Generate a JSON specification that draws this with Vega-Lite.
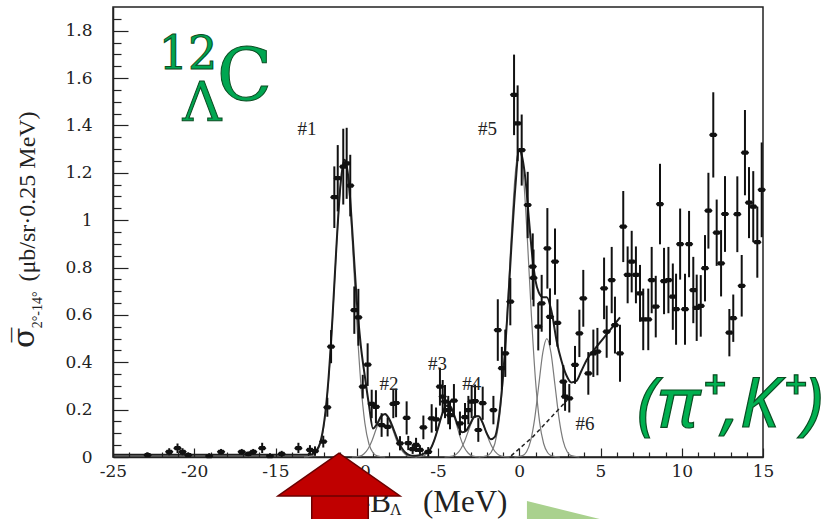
{
"$schema": "https://vega.github.io/schema/vega-lite/v6.json",
"width": 650, "height": 450,
"autosize": {"type": "none"},
"padding": {"left": 113, "top": 7, "right": 71, "bottom": 62},
"background": "white",
"config": {"view": {"stroke": "#222", "strokeWidth": 1.5}, "axis": {"grid": false, "labelOverlap": false}},
"datasets": {
"pts": [
{"x":-22.87,"y":0.008,"lo":0.0,"hi":0.02},{"x":-21.54,"y":0.022,"lo":0.007,"hi":0.037},{"x":-21.03,"y":0.037,"lo":0.017,"hi":0.057},{"x":-20.72,"y":0.022,"lo":0.007,"hi":0.037},{"x":-20.37,"y":0.008,"lo":0.0,"hi":0.02},{"x":-19.08,"y":0.004,"lo":0.0,"hi":0.016},{"x":-18.35,"y":0.022,"lo":0.01,"hi":0.034},{"x":-17.08,"y":0.022,"lo":0.01,"hi":0.034},{"x":-16.67,"y":0.013,"lo":0.003,"hi":0.023},{"x":-16.37,"y":0.022,"lo":0.01,"hi":0.034},{"x":-15.82,"y":0.037,"lo":0.017,"hi":0.06},{"x":-15.34,"y":0.004,"lo":0.0,"hi":0.016},{"x":-14.62,"y":0.013,"lo":0.0,"hi":0.026},{"x":-13.59,"y":0.037,"lo":0.017,"hi":0.06},{"x":-12.88,"y":0.03,"lo":0.01,"hi":0.05},{"x":-12.57,"y":0.025,"lo":0.005,"hi":0.045},{"x":-12.06,"y":0.065,"lo":0.04,"hi":0.09},{"x":-11.81,"y":0.21,"lo":0.17,"hi":0.25},{"x":-11.58,"y":0.466,"lo":0.396,"hi":0.536},{"x":-11.38,"y":1.097,"lo":0.967,"hi":1.227},{"x":-11.17,"y":1.177,"lo":1.037,"hi":1.317},{"x":-10.83,"y":1.226,"lo":1.066,"hi":1.386},{"x":-10.62,"y":1.24,"lo":1.09,"hi":1.39},{"x":-10.4,"y":1.146,"lo":1.016,"hi":1.276},{"x":-10.15,"y":0.62,"lo":0.52,"hi":0.72},{"x":-9.9,"y":0.59,"lo":0.47,"hi":0.71},{"x":-9.63,"y":0.297,"lo":0.247,"hi":0.347},{"x":-9.33,"y":0.39,"lo":0.3,"hi":0.48},{"x":-9.08,"y":0.224,"lo":0.164,"hi":0.284},{"x":-8.82,"y":0.212,"lo":0.142,"hi":0.282},{"x":-8.47,"y":0.135,"lo":0.085,"hi":0.185},{"x":-8.1,"y":0.127,"lo":0.087,"hi":0.167},{"x":-7.75,"y":0.224,"lo":0.164,"hi":0.284},{"x":-7.58,"y":0.228,"lo":0.168,"hi":0.288},{"x":-7.34,"y":0.058,"lo":0.028,"hi":0.088},{"x":-6.93,"y":0.165,"lo":0.095,"hi":0.235},{"x":-6.83,"y":0.059,"lo":0.029,"hi":0.089},{"x":-6.56,"y":0.033,"lo":0.013,"hi":0.053},{"x":-6.35,"y":0.051,"lo":0.021,"hi":0.081},{"x":-6.11,"y":0.03,"lo":0.01,"hi":0.05},{"x":-5.9,"y":0.125,"lo":0.075,"hi":0.175},{"x":-5.6,"y":0.022,"lo":0.002,"hi":0.042},{"x":-5.39,"y":0.163,"lo":0.103,"hi":0.223},{"x":-5.12,"y":0.159,"lo":0.109,"hi":0.209},{"x":-4.88,"y":0.297,"lo":0.217,"hi":0.377},{"x":-4.71,"y":0.255,"lo":0.185,"hi":0.325},{"x":-4.57,"y":0.234,"lo":0.164,"hi":0.304},{"x":-4.37,"y":0.198,"lo":0.138,"hi":0.258},{"x":-4.26,"y":0.177,"lo":0.117,"hi":0.237},{"x":-4.02,"y":0.238,"lo":0.168,"hi":0.308},{"x":-3.65,"y":0.142,"lo":0.092,"hi":0.192},{"x":-3.34,"y":0.168,"lo":0.108,"hi":0.228},{"x":-3.13,"y":0.198,"lo":0.138,"hi":0.258},{"x":-2.93,"y":0.234,"lo":0.164,"hi":0.304},{"x":-2.72,"y":0.236,"lo":0.166,"hi":0.306},{"x":-2.52,"y":0.114,"lo":0.064,"hi":0.164},{"x":-2.25,"y":0.227,"lo":0.157,"hi":0.297},{"x":-1.59,"y":0.198,"lo":0.138,"hi":0.258},{"x":-1.32,"y":0.536,"lo":0.406,"hi":0.666},{"x":-1.07,"y":0.375,"lo":0.285,"hi":0.465},{"x":-0.86,"y":0.438,"lo":0.338,"hi":0.538},{"x":-0.55,"y":0.656,"lo":0.556,"hi":0.756},{"x":-0.32,"y":1.529,"lo":1.359,"hi":1.699},{"x":-0.1,"y":1.409,"lo":1.249,"hi":1.569},{"x":0.15,"y":1.296,"lo":1.146,"hi":1.446},{"x":0.52,"y":1.064,"lo":0.924,"hi":1.204},{"x":0.83,"y":0.804,"lo":0.664,"hi":0.944},{"x":0.88,"y":0.756,"lo":0.636,"hi":0.876},{"x":1.17,"y":0.55,"lo":0.45,"hi":0.65},{"x":1.38,"y":0.649,"lo":0.529,"hi":0.769},{"x":1.73,"y":0.881,"lo":0.711,"hi":1.051},{"x":1.89,"y":0.592,"lo":0.472,"hi":0.712},{"x":2.2,"y":0.825,"lo":0.685,"hi":0.965},{"x":2.35,"y":0.566,"lo":0.466,"hi":0.666},{"x":2.71,"y":0.318,"lo":0.248,"hi":0.388},{"x":2.82,"y":0.255,"lo":0.195,"hi":0.315},{"x":3.08,"y":0.248,"lo":0.188,"hi":0.308},{"x":3.43,"y":0.389,"lo":0.309,"hi":0.469},{"x":3.7,"y":0.522,"lo":0.422,"hi":0.622},{"x":3.94,"y":0.67,"lo":0.55,"hi":0.79},{"x":4.25,"y":0.353,"lo":0.263,"hi":0.443},{"x":4.56,"y":0.438,"lo":0.338,"hi":0.538},{"x":4.81,"y":0.445,"lo":0.345,"hi":0.545},{"x":5.22,"y":0.712,"lo":0.582,"hi":0.842},{"x":5.38,"y":0.529,"lo":0.419,"hi":0.639},{"x":5.69,"y":0.747,"lo":0.607,"hi":0.887},{"x":5.89,"y":0.557,"lo":0.437,"hi":0.677},{"x":6.2,"y":0.438,"lo":0.318,"hi":0.558},{"x":6.4,"y":0.973,"lo":0.823,"hi":1.123},{"x":6.67,"y":0.769,"lo":0.649,"hi":0.889},{"x":6.92,"y":0.825,"lo":0.695,"hi":0.955},{"x":7.18,"y":0.769,"lo":0.649,"hi":0.889},{"x":7.43,"y":0.691,"lo":0.571,"hi":0.811},{"x":7.63,"y":0.581,"lo":0.451,"hi":0.711},{"x":7.94,"y":0.581,"lo":0.451,"hi":0.711},{"x":8.15,"y":0.747,"lo":0.607,"hi":0.887},{"x":8.4,"y":0.635,"lo":0.505,"hi":0.765},{"x":8.66,"y":1.068,"lo":0.898,"hi":1.238},{"x":8.91,"y":0.743,"lo":0.603,"hi":0.883},{"x":9.18,"y":0.747,"lo":0.607,"hi":0.887},{"x":9.45,"y":0.677,"lo":0.537,"hi":0.817},{"x":9.65,"y":0.624,"lo":0.474,"hi":0.774},{"x":9.9,"y":0.899,"lo":0.749,"hi":1.049},{"x":10.2,"y":0.624,"lo":0.474,"hi":0.774},{"x":10.45,"y":0.899,"lo":0.759,"hi":1.039},{"x":10.71,"y":0.705,"lo":0.565,"hi":0.845},{"x":10.92,"y":0.63,"lo":0.49,"hi":0.77},{"x":11.17,"y":0.638,"lo":0.508,"hi":0.768},{"x":11.43,"y":0.797,"lo":0.657,"hi":0.937},{"x":11.64,"y":1.04,"lo":0.88,"hi":1.2},{"x":11.94,"y":1.36,"lo":1.18,"hi":1.54},{"x":12.15,"y":0.947,"lo":0.807,"hi":1.087},{"x":12.42,"y":0.818,"lo":0.678,"hi":0.958},{"x":12.66,"y":1.026,"lo":0.866,"hi":1.186},{"x":12.93,"y":0.525,"lo":0.425,"hi":0.625},{"x":13.17,"y":0.586,"lo":0.486,"hi":0.686},{"x":13.42,"y":1.025,"lo":0.865,"hi":1.185},{"x":13.69,"y":0.723,"lo":0.593,"hi":0.853},{"x":13.89,"y":1.285,"lo":1.105,"hi":1.465},{"x":14.14,"y":1.074,"lo":0.924,"hi":1.224},{"x":14.4,"y":1.057,"lo":0.907,"hi":1.207},{"x":14.65,"y":0.907,"lo":0.757,"hi":1.057},{"x":14.92,"y":1.128,"lo":0.928,"hi":1.328}
],
"fit": [
{"x":-25,"y":0.01},{"x":-13,"y":0.01},{"x":-12.75,"y":0.012},{"x":-12.5,"y":0.025},{"x":-12.25,"y":0.06},{"x":-12,"y":0.15},{"x":-11.75,"y":0.32},{"x":-11.5,"y":0.58},{"x":-11.25,"y":0.89},{"x":-11,"y":1.15},{"x":-10.75,"y":1.255},{"x":-10.5,"y":1.17},{"x":-10.25,"y":0.93},{"x":-10,"y":0.66},{"x":-9.75,"y":0.47},{"x":-9.5,"y":0.34},{"x":-9.25,"y":0.22},{"x":-9,"y":0.12},{"x":-8.75,"y":0.14},{"x":-8.5,"y":0.172},{"x":-8.25,"y":0.182},{"x":-8,"y":0.16},{"x":-7.75,"y":0.12},{"x":-7.5,"y":0.075},{"x":-7.25,"y":0.04},{"x":-7,"y":0.018},{"x":-6.75,"y":0.008},{"x":-6.5,"y":0.005},{"x":-6.25,"y":0.006},{"x":-6,"y":0.01},{"x":-5.75,"y":0.018},{"x":-5.5,"y":0.03},{"x":-5.25,"y":0.067},{"x":-5,"y":0.121},{"x":-4.75,"y":0.18},{"x":-4.5,"y":0.216},{"x":-4.25,"y":0.214},{"x":-4,"y":0.176},{"x":-3.75,"y":0.129},{"x":-3.5,"y":0.104},{"x":-3.25,"y":0.112},{"x":-3,"y":0.143},{"x":-2.75,"y":0.171},{"x":-2.5,"y":0.172},{"x":-2.25,"y":0.144},{"x":-2,"y":0.1},{"x":-1.75,"y":0.075},{"x":-1.5,"y":0.085},{"x":-1.25,"y":0.17},{"x":-1,"y":0.34},{"x":-0.75,"y":0.58},{"x":-0.5,"y":0.87},{"x":-0.25,"y":1.13},{"x":0,"y":1.3},{"x":0.2,"y":1.26},{"x":0.4,"y":1.16},{"x":0.6,"y":1.0},{"x":0.8,"y":0.85},{"x":1.0,"y":0.745},{"x":1.2,"y":0.695},{"x":1.45,"y":0.675},{"x":1.7,"y":0.675},{"x":2.0,"y":0.61},{"x":2.3,"y":0.49},{"x":2.6,"y":0.405},{"x":2.9,"y":0.345},{"x":3.2,"y":0.315},{"x":3.5,"y":0.32},{"x":3.8,"y":0.36},{"x":4.15,"y":0.41},{"x":4.75,"y":0.465},{"x":5.4,"y":0.52},{"x":6.2,"y":0.59}
],
"comp": [
{"c":"g1","x":-13.25,"y":0},{"c":"g1","x":-12.75,"y":0.005},{"c":"g1","x":-12.5,"y":0.018},{"c":"g1","x":-12.25,"y":0.055},{"c":"g1","x":-12,"y":0.143},{"c":"g1","x":-11.75,"y":0.312},{"c":"g1","x":-11.5,"y":0.572},{"c":"g1","x":-11.25,"y":0.884},{"c":"g1","x":-11,"y":1.146},{"c":"g1","x":-10.75,"y":1.25},{"c":"g1","x":-10.5,"y":1.146},{"c":"g1","x":-10.25,"y":0.884},{"c":"g1","x":-10,"y":0.572},{"c":"g1","x":-9.75,"y":0.312},{"c":"g1","x":-9.5,"y":0.143},{"c":"g1","x":-9.25,"y":0.055},{"c":"g1","x":-9,"y":0.018},{"c":"g1","x":-8.75,"y":0.005},{"c":"g1","x":-8.25,"y":0},
{"c":"g2","x":-10.3,"y":0},{"c":"g2","x":-9.8,"y":0.004},{"c":"g2","x":-9.55,"y":0.014},{"c":"g2","x":-9.3,"y":0.035},{"c":"g2","x":-9.05,"y":0.071},{"c":"g2","x":-8.8,"y":0.119},{"c":"g2","x":-8.55,"y":0.162},{"c":"g2","x":-8.3,"y":0.18},{"c":"g2","x":-8.05,"y":0.162},{"c":"g2","x":-7.8,"y":0.119},{"c":"g2","x":-7.55,"y":0.071},{"c":"g2","x":-7.3,"y":0.035},{"c":"g2","x":-7.05,"y":0.014},{"c":"g2","x":-6.8,"y":0.004},{"c":"g2","x":-6.3,"y":0},
{"c":"g3","x":-6.4,"y":0},{"c":"g3","x":-5.9,"y":0.005},{"c":"g3","x":-5.65,"y":0.017},{"c":"g3","x":-5.4,"y":0.042},{"c":"g3","x":-5.15,"y":0.087},{"c":"g3","x":-4.9,"y":0.146},{"c":"g3","x":-4.65,"y":0.198},{"c":"g3","x":-4.4,"y":0.22},{"c":"g3","x":-4.15,"y":0.198},{"c":"g3","x":-3.9,"y":0.146},{"c":"g3","x":-3.65,"y":0.087},{"c":"g3","x":-3.4,"y":0.042},{"c":"g3","x":-3.15,"y":0.017},{"c":"g3","x":-2.9,"y":0.005},{"c":"g3","x":-2.4,"y":0},
{"c":"g4","x":-4.6,"y":0},{"c":"g4","x":-4.1,"y":0.004},{"c":"g4","x":-3.85,"y":0.013},{"c":"g4","x":-3.6,"y":0.034},{"c":"g4","x":-3.35,"y":0.069},{"c":"g4","x":-3.1,"y":0.116},{"c":"g4","x":-2.85,"y":0.158},{"c":"g4","x":-2.6,"y":0.175},{"c":"g4","x":-2.35,"y":0.158},{"c":"g4","x":-2.1,"y":0.116},{"c":"g4","x":-1.85,"y":0.069},{"c":"g4","x":-1.6,"y":0.034},{"c":"g4","x":-1.35,"y":0.013},{"c":"g4","x":-1.1,"y":0.004},{"c":"g4","x":-0.6,"y":0},
{"c":"g5","x":-2.5,"y":0},{"c":"g5","x":-2,"y":0.005},{"c":"g5","x":-1.75,"y":0.018},{"c":"g5","x":-1.5,"y":0.057},{"c":"g5","x":-1.25,"y":0.148},{"c":"g5","x":-1,"y":0.324},{"c":"g5","x":-0.75,"y":0.595},{"c":"g5","x":-0.5,"y":0.919},{"c":"g5","x":-0.25,"y":1.192},{"c":"g5","x":0,"y":1.3},{"c":"g5","x":0.25,"y":1.192},{"c":"g5","x":0.5,"y":0.919},{"c":"g5","x":0.75,"y":0.595},{"c":"g5","x":1,"y":0.324},{"c":"g5","x":1.25,"y":0.148},{"c":"g5","x":1.5,"y":0.057},{"c":"g5","x":1.75,"y":0.018},{"c":"g5","x":2,"y":0.005},{"c":"g5","x":2.5,"y":0},
{"c":"g6","x":-0.3,"y":0},{"c":"g6","x":0.2,"y":0.006},{"c":"g6","x":0.45,"y":0.022},{"c":"g6","x":0.7,"y":0.068},{"c":"g6","x":0.95,"y":0.162},{"c":"g6","x":1.2,"y":0.303},{"c":"g6","x":1.45,"y":0.441},{"c":"g6","x":1.7,"y":0.5},{"c":"g6","x":1.95,"y":0.441},{"c":"g6","x":2.2,"y":0.303},{"c":"g6","x":2.45,"y":0.162},{"c":"g6","x":2.7,"y":0.068},{"c":"g6","x":2.95,"y":0.022},{"c":"g6","x":3.2,"y":0.006},{"c":"g6","x":3.7,"y":0}
],
"bg": [{"x":-0.5,"y":0.005},{"x":0.85,"y":0.086},{"x":1.9,"y":0.163},{"x":2.95,"y":0.24}],
"labels": [{"t":"#1","x":-13.06,"y":1.36},{"t":"#5","x":-1.95,"y":1.36},{"t":"#2","x":-8.02,"y":0.283},{"t":"#3","x":-5.03,"y":0.367},{"t":"#4","x":-2.93,"y":0.283},{"t":"#6","x":4.05,"y":0.114}]
},
"layer": [
{"data": {"name": "comp"},
 "mark": {"type": "line", "color": "#7a7a7a", "strokeWidth": 1.2, "interpolate": "monotone"},
 "encoding": {
  "x": {"field": "x", "type": "quantitative", "scale": {"domain": [-25, 15], "nice": false, "zero": false},
   "axis": {"title": null, "tickCount": 200, "values": [-25,-24,-23,-22,-21,-20,-19,-18,-17,-16,-15,-14,-13,-12,-11,-10,-9,-8,-7,-6,-5,-4,-3,-2,-1,0,1,2,3,4,5,6,7,8,9,10,11,12,13,14,15],
    "labelExpr": "datum.value % 5 === 0 ? toString(datum.value) : ''",
    "tickSize": {"condition": {"test": "datum.value % 5 === 0", "value": -9}, "value": -5},
    "tickColor": "#222", "tickWidth": 1.2, "domainColor": "#222", "domainWidth": 1.5,
    "labelFont": "DejaVu Serif", "labelFontSize": 17, "labelColor": "#222", "labelPadding": 15,
    "labelOverlap": false, "labelFlush": false, "labelBound": false, "grid": false}},
  "y": {"field": "y", "type": "quantitative", "scale": {"domain": [0, 1.9], "nice": false, "zero": false},
   "axis": {"title": null, "tickCount": 200, "values": [0,0.05,0.1,0.15,0.2,0.25,0.3,0.35,0.4,0.45,0.5,0.55,0.6,0.65,0.7,0.75,0.8,0.85,0.9,0.95,1,1.05,1.1,1.15,1.2,1.25,1.3,1.35,1.4,1.45,1.5,1.55,1.6,1.65,1.7,1.75,1.8,1.85],
    "labelExpr": "abs(datum.value*5-round(datum.value*5))<0.001 ? toString(round(datum.value*10)/10) : ''",
    "tickSize": {"condition": {"test": "abs(datum.value*5-round(datum.value*5))<0.001", "value": -15}, "value": -8},
    "tickColor": "#222", "tickWidth": 1.2, "domainColor": "#222", "domainWidth": 1.5,
    "labelFont": "DejaVu Serif", "labelFontSize": 17, "labelColor": "#222", "labelPadding": 36,
    "labelOverlap": false, "labelFlush": false, "labelBound": false, "grid": false}},
  "detail": {"field": "c", "type": "nominal"}
 }},
{"data": {"name": "bg"},
 "mark": {"type": "line", "color": "#222", "strokeWidth": 1.5, "strokeDash": [4, 3]},
 "encoding": {"x": {"field": "x", "type": "quantitative", "title": null}, "y": {"field": "y", "type": "quantitative", "title": null}}},
{"data": {"name": "fit"},
 "mark": {"type": "line", "color": "#1e1e1e", "strokeWidth": 2, "interpolate": "monotone"},
 "encoding": {"x": {"field": "x", "type": "quantitative", "title": null}, "y": {"field": "y", "type": "quantitative", "title": null}}},
{"data": {"name": "pts"},
 "mark": {"type": "rule", "color": "#111", "strokeWidth": 2},
 "encoding": {"x": {"field": "x", "type": "quantitative", "title": null}, "y": {"field": "lo", "type": "quantitative", "title": null}, "y2": {"field": "hi"}}},
{"data": {"name": "pts"},
 "mark": {"type": "point", "shape": "M-1,0L-0.6,-0.5L0.6,-0.5L1,0L0.6,0.5L-0.6,0.5Z", "size": 72, "filled": true, "color": "#111", "opacity": 1},
 "encoding": {"x": {"field": "x", "type": "quantitative", "title": null}, "y": {"field": "y", "type": "quantitative", "title": null}}},
{"data": {"name": "labels"},
 "mark": {"type": "text", "font": "Liberation Serif", "fontSize": 19, "color": "#222", "align": "center", "baseline": "alphabetic"},
 "encoding": {"x": {"field": "x", "type": "quantitative", "title": null}, "y": {"field": "y", "type": "quantitative", "title": null}, "text": {"field": "t"}}},
{"data": {"values": [{}]},
 "mark": {"type": "text", "text": "(μb/sr·0.25 MeV)", "font": "Liberation Serif", "fontSize": 24, "color": "#222", "angle": 270, "align": "center", "baseline": "middle"},
 "encoding": {"x": {"datum": -30.23, "type": "quantitative"}, "y": {"datum": 1.10, "type": "quantitative"}}},
{"data": {"values": [{}]},
 "mark": {"type": "text", "text": "2°-14°", "font": "Liberation Serif", "fontSize": 14, "color": "#222", "angle": 270, "align": "center", "baseline": "middle"},
 "encoding": {"x": {"datum": -29.62, "type": "quantitative"}, "y": {"datum": 0.621, "type": "quantitative"}}},
{"data": {"values": [{}]},
 "mark": {"type": "text", "text": "σ̅", "font": "DejaVu Serif", "fontSize": 30, "color": "#222", "angle": 270, "align": "center", "baseline": "middle"},
 "encoding": {"x": {"datum": -30.42, "type": "quantitative"}, "y": {"datum": 0.503, "type": "quantitative"}}},
{"data": {"values": [{}]},
 "mark": {"type": "text", "text": "-B", "font": "Liberation Serif", "fontSize": 31, "color": "#222", "align": "right", "baseline": "alphabetic"},
 "encoding": {"x": {"datum": -7.89, "type": "quantitative"}, "y": {"datum": -0.232, "type": "quantitative"}}},
{"data": {"values": [{}]},
 "mark": {"type": "text", "text": "Λ", "font": "Liberation Serif", "fontSize": 16, "color": "#222", "align": "left", "baseline": "alphabetic"},
 "encoding": {"x": {"datum": -7.95, "type": "quantitative"}, "y": {"datum": -0.245, "type": "quantitative"}}},
{"data": {"values": [{}]},
 "mark": {"type": "text", "text": "(MeV)", "font": "Liberation Serif", "fontSize": 31, "color": "#222", "align": "left", "baseline": "alphabetic"},
 "encoding": {"x": {"datum": -5.92, "type": "quantitative"}, "y": {"datum": -0.232, "type": "quantitative"}}},
{"data": {"values": [{}]},
 "mark": {"type": "text", "text": "12", "font": "DejaVu Serif", "fontSize": 46, "fill": "#00a651", "stroke": "#0b4d22", "strokeWidth": 1, "align": "center", "baseline": "alphabetic"},
 "encoding": {"x": {"datum": -20.38, "type": "quantitative"}, "y": {"datum": 1.64, "type": "quantitative"}}},
{"data": {"values": [{}]},
 "mark": {"type": "text", "text": "Λ", "font": "DejaVu Serif", "fontSize": 54, "fill": "#00a651", "stroke": "#0b4d22", "strokeWidth": 1, "align": "center", "baseline": "alphabetic"},
 "encoding": {"x": {"datum": -19.52, "type": "quantitative"}, "y": {"datum": 1.419, "type": "quantitative"}}},
{"data": {"values": [{}]},
 "mark": {"type": "text", "text": "C", "font": "DejaVu Serif", "fontSize": 72, "fill": "#00a651", "stroke": "#0b4d22", "strokeWidth": 1, "align": "center", "baseline": "alphabetic"},
 "encoding": {"x": {"datum": -16.9, "type": "quantitative"}, "y": {"datum": 1.503, "type": "quantitative"}}},
{"data": {"values": [{}]},
 "mark": {"type": "text", "text": "(π⁺,K⁺)", "font": "Noto Sans", "fontStyle": "italic", "fontSize": 70, "fill": "#00b050", "stroke": "#0a4d22", "strokeWidth": 1.2, "align": "center", "baseline": "alphabetic"},
 "encoding": {"x": {"datum": 12.97, "type": "quantitative"}, "y": {"datum": 0.127, "type": "quantitative"}}},
{"data": {"values": [{}]},
 "mark": {"type": "point", "shape": "M-1,-0.247L1,0.247L-1,0.247Z", "size": 5329, "filled": true, "fill": "#a9d18e", "opacity": 1, "strokeWidth": 0},
 "encoding": {"x": {"datum": 2.72, "type": "quantitative"}, "y": {"datum": -0.224, "type": "quantitative"}}},
{"data": {"values": [{}]},
 "mark": {"type": "rect", "fill": "#c00000", "stroke": "#6b0000", "strokeWidth": 1.5},
 "encoding": {"x": {"datum": -12.77, "type": "quantitative"}, "x2": {"datum": -9.29}, "y": {"datum": -0.155, "type": "quantitative"}, "y2": {"datum": -0.4}}},
{"data": {"values": [{}]},
 "mark": {"type": "point", "shape": "M-1,0.35L0,-0.35L1,0.35Z", "size": 14884, "filled": true, "fill": "#c00000", "stroke": "#6b0000", "strokeWidth": 1.5, "opacity": 1},
 "encoding": {"x": {"datum": -11.09, "type": "quantitative"}, "y": {"datum": -0.074, "type": "quantitative"}}}
]
}
